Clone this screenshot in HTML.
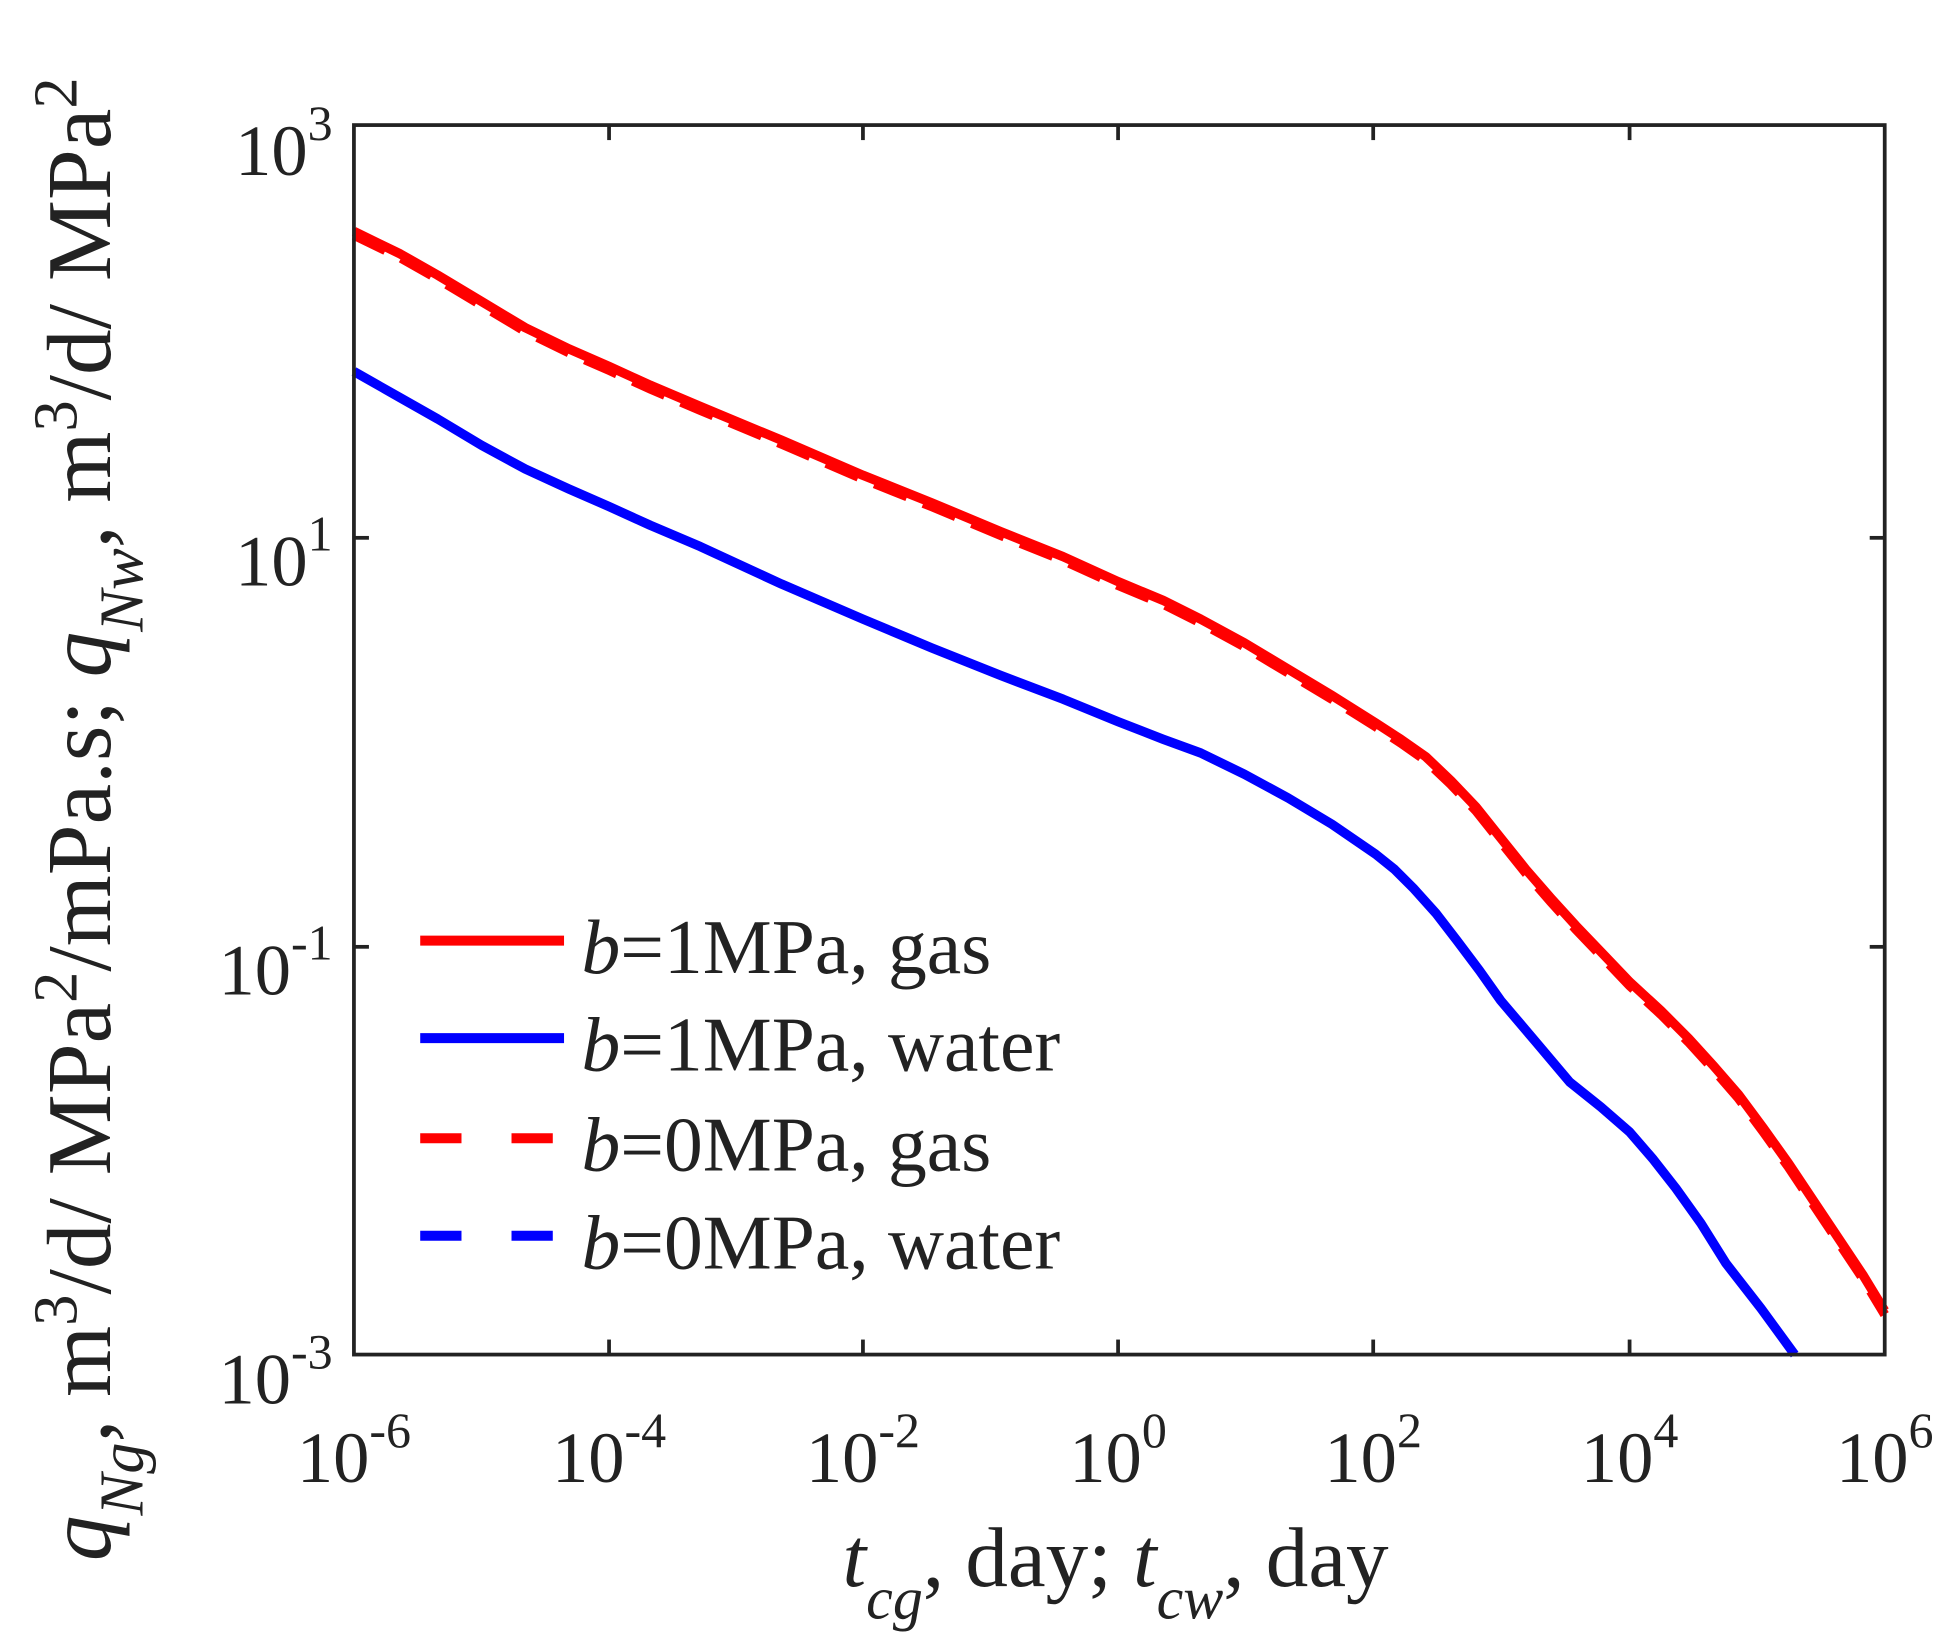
<!DOCTYPE html>
<html><head><meta charset="utf-8"><style>
html,body{margin:0;padding:0;background:#fff;}
svg{display:block;}
text{font-family:"Liberation Serif",serif;fill:#222;}
</style></head><body>
<svg width="1951" height="1646" viewBox="0 0 1560 1316" preserveAspectRatio="none" xmlns="http://www.w3.org/2000/svg">
<rect width="1560" height="1316" fill="#fff"/>
<polyline fill="none" stroke="#f00" stroke-width="7.5" stroke-linejoin="round" points="283,185 320,203 350,220 385,241 420,262 455,279 487,293 520,308 560,325 625,352 690,380 745,402 800,425 850,445 894,465 930,480 960,495 995,514 1030,535 1065,556 1100,578 1120,591 1140,605 1160,624 1180,645 1200,670 1220,695 1240,718 1260,740 1283,764 1303,785 1328,808 1350,830 1370,852 1390,875 1410,902 1430,930 1450,960 1470,990 1490,1020 1507,1048"/>
<polyline fill="none" stroke="#f00" stroke-width="7.5" stroke-dasharray="28,14" points="283,188 320,206 350,223 385,244 420,265 455,282 487,296 520,311 560,328 625,355 690,383 745,405 800,428 850,448 894,468 930,483 960,498 995,517 1030,538 1065,559 1100,581 1120,594 1140,608 1160,627 1180,648 1200,673 1220,698 1240,721 1260,743 1283,767 1303,788 1328,811 1350,833 1370,855 1390,878 1410,905 1430,933 1450,963 1470,993 1490,1023 1507,1051"/>
<polyline fill="none" stroke="#00f" stroke-width="7.5" stroke-linejoin="round" points="283,297 320,318 350,335 385,356 420,375 455,391 487,405 520,420 560,437 625,467 690,495 745,518 800,540 850,559 894,577 930,591 960,602 995,619 1030,638 1065,659 1100,683 1115,695 1130,710 1148,730 1165,752 1183,776 1200,800 1228,833 1255,865 1280,885 1303,905 1322,927 1340,950 1360,978 1380,1010 1408,1046 1435,1083"/>
<rect x="283" y="100" width="1224" height="983" fill="none" stroke="#222" stroke-width="3"/>
<g stroke="#222" stroke-width="3">
<line x1="487" y1="1083" x2="487" y2="1071"/><line x1="690" y1="1083" x2="690" y2="1071"/><line x1="894" y1="1083" x2="894" y2="1071"/><line x1="1098" y1="1083" x2="1098" y2="1071"/><line x1="1303" y1="1083" x2="1303" y2="1071"/>
<line x1="487" y1="100" x2="487" y2="112"/><line x1="690" y1="100" x2="690" y2="112"/><line x1="894" y1="100" x2="894" y2="112"/><line x1="1098" y1="100" x2="1098" y2="112"/><line x1="1303" y1="100" x2="1303" y2="112"/>
<line x1="283" y1="430" x2="295" y2="430"/><line x1="283" y1="757" x2="295" y2="757"/>
<line x1="1507" y1="430" x2="1495" y2="430"/><line x1="1507" y1="757" x2="1495" y2="757"/>
</g>
<g font-size="58" text-anchor="end">
<text x="266" y="140">10<tspan dy="-28" font-size="40">3</tspan></text>
<text x="266" y="468">10<tspan dy="-28" font-size="40">1</tspan></text>
<text x="266" y="795">10<tspan dy="-28" font-size="40">-1</tspan></text>
<text x="266" y="1122">10<tspan dy="-28" font-size="40">-3</tspan></text>
</g>
<g font-size="58" text-anchor="middle">
<text x="283" y="1185">10<tspan dy="-28" font-size="40">-6</tspan></text>
<text x="487" y="1185">10<tspan dy="-28" font-size="40">-4</tspan></text>
<text x="690" y="1185">10<tspan dy="-28" font-size="40">-2</tspan></text>
<text x="894" y="1185">10<tspan dy="-28" font-size="40">0</tspan></text>
<text x="1098" y="1185">10<tspan dy="-28" font-size="40">2</tspan></text>
<text x="1303" y="1185">10<tspan dy="-28" font-size="40">4</tspan></text>
<text x="1507" y="1185">10<tspan dy="-28" font-size="40">6</tspan></text>
</g>
<text x="892" y="1268" font-size="68" text-anchor="middle"><tspan font-style="italic">t</tspan><tspan font-style="italic" font-size="48" dy="26">cg</tspan><tspan dy="-26">, day; </tspan><tspan font-style="italic">t</tspan><tspan font-style="italic" font-size="48" dy="26">cw</tspan><tspan dy="-26">, day</tspan></text>
<text transform="translate(88,655) rotate(-90)" font-size="73" text-anchor="middle"><tspan font-style="italic">q</tspan><tspan font-style="italic" font-size="50" dy="26">Ng</tspan><tspan dy="-26">, m</tspan><tspan font-size="50" dy="-27">3</tspan><tspan dy="27">/d/ MPa</tspan><tspan font-size="50" dy="-27">2</tspan><tspan dy="27">/mPa.s; </tspan><tspan font-style="italic">q</tspan><tspan font-style="italic" font-size="50" dy="26">Nw</tspan><tspan dy="-26">, m</tspan><tspan font-size="50" dy="-27">3</tspan><tspan dy="27">/d/ MPa</tspan><tspan font-size="50" dy="-27">2</tspan></text>
<g stroke-width="8">
<line x1="336" y1="752" x2="451" y2="752" stroke="#f00"/>
<line x1="336" y1="830" x2="451" y2="830" stroke="#00f"/>
<line x1="336" y1="910" x2="451" y2="910" stroke="#f00" stroke-dasharray="33,40"/>
<line x1="336" y1="988" x2="451" y2="988" stroke="#00f" stroke-dasharray="33,40"/>
</g>
<g font-size="62" style="fill:#000">
<text x="465" y="778"><tspan font-style="italic">b</tspan>=1MPa, gas</text>
<text x="465" y="856"><tspan font-style="italic">b</tspan>=1MPa, water</text>
<text x="465" y="936"><tspan font-style="italic">b</tspan>=0MPa, gas</text>
<text x="465" y="1014"><tspan font-style="italic">b</tspan>=0MPa, water</text>
</g>
</svg>
</body></html>
